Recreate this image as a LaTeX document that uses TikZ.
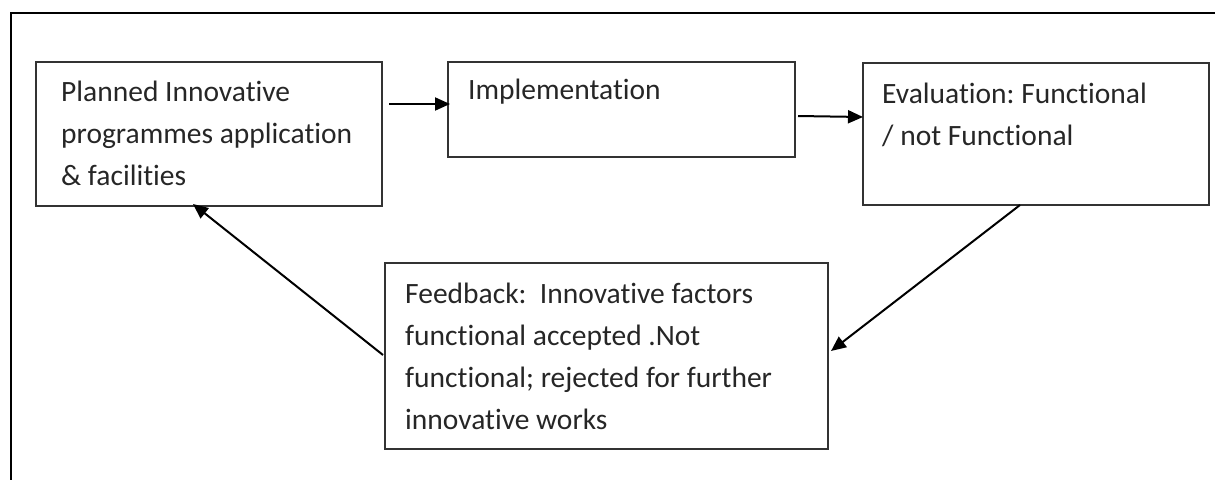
\documentclass[tikz,border=0pt]{standalone}
\usepackage{fontspec}
\setmainfont{Carlito}[Ligatures=NoCommon]
\usetikzlibrary{arrows.meta, positioning, calc}
\frenchspacing

\begin{document}
\begin{tikzpicture}[x=1pt, y=-1pt,
    box/.style={draw=black!80, line width=2pt, inner sep=0pt},
    txt/.style={inner sep=0pt, align=left, text=black!85,
        font=\fontsize{29.5}{42}\selectfont},
    flow/.style={line width=2pt, -{Triangle[length=15pt, width=13pt]}}]
\useasboundingbox (0,0) rectangle (1215,480);

% outer frame (top and left edges only)
\draw[line width=2.6pt] (1215,13) -| (11,480);

% the four stages
\node[box, minimum width=346pt, minimum height=144pt] (plan) at (209,134) {};
\node[box, minimum width=347pt, minimum height=95pt] (impl) at (621.5,109.5) {};
\node[box, minimum width=346pt, minimum height=142pt] (eval) at (1036,134) {};
\node[box, minimum width=443pt, minimum height=186pt] (feed) at (606.5,356) {};

\node[txt, below right=20pt and 26pt of plan.north west] (plantxt)
    {Planned Innovative\\programmes application\\\& facilities};
\node[txt, below right=18pt and 21pt of impl.north west] (impltxt)
    {Implementation};
\node[txt, below right=21pt and 20pt of eval.north west] (evaltxt)
    {Evaluation: Functional\\/ not Functional};
\node[txt, below right=21pt and 21pt of feed.north west] (feedtxt)
    {Feedback:\ \ Innovative factors\\functional accepted .Not\\functional; rejected for further\\innovative works};

% cycle arrows
\draw[flow] ($(plan.north east)+(6,43)$) -- ($(impl.north west)+(3,43)$);
\draw[flow] ($(impl.north east)+(2,55)$) -- ($(eval.north west)+(1,55)$);
\draw[flow] ($(eval.south)+(-16,-1)$) -- ($(feed.east)+(2,-5)$);
\draw[flow] ($(feed.west)+(-1,-1)$) -- ($(plan.south)+(-16,-3)$);

\end{tikzpicture}
\end{document}
